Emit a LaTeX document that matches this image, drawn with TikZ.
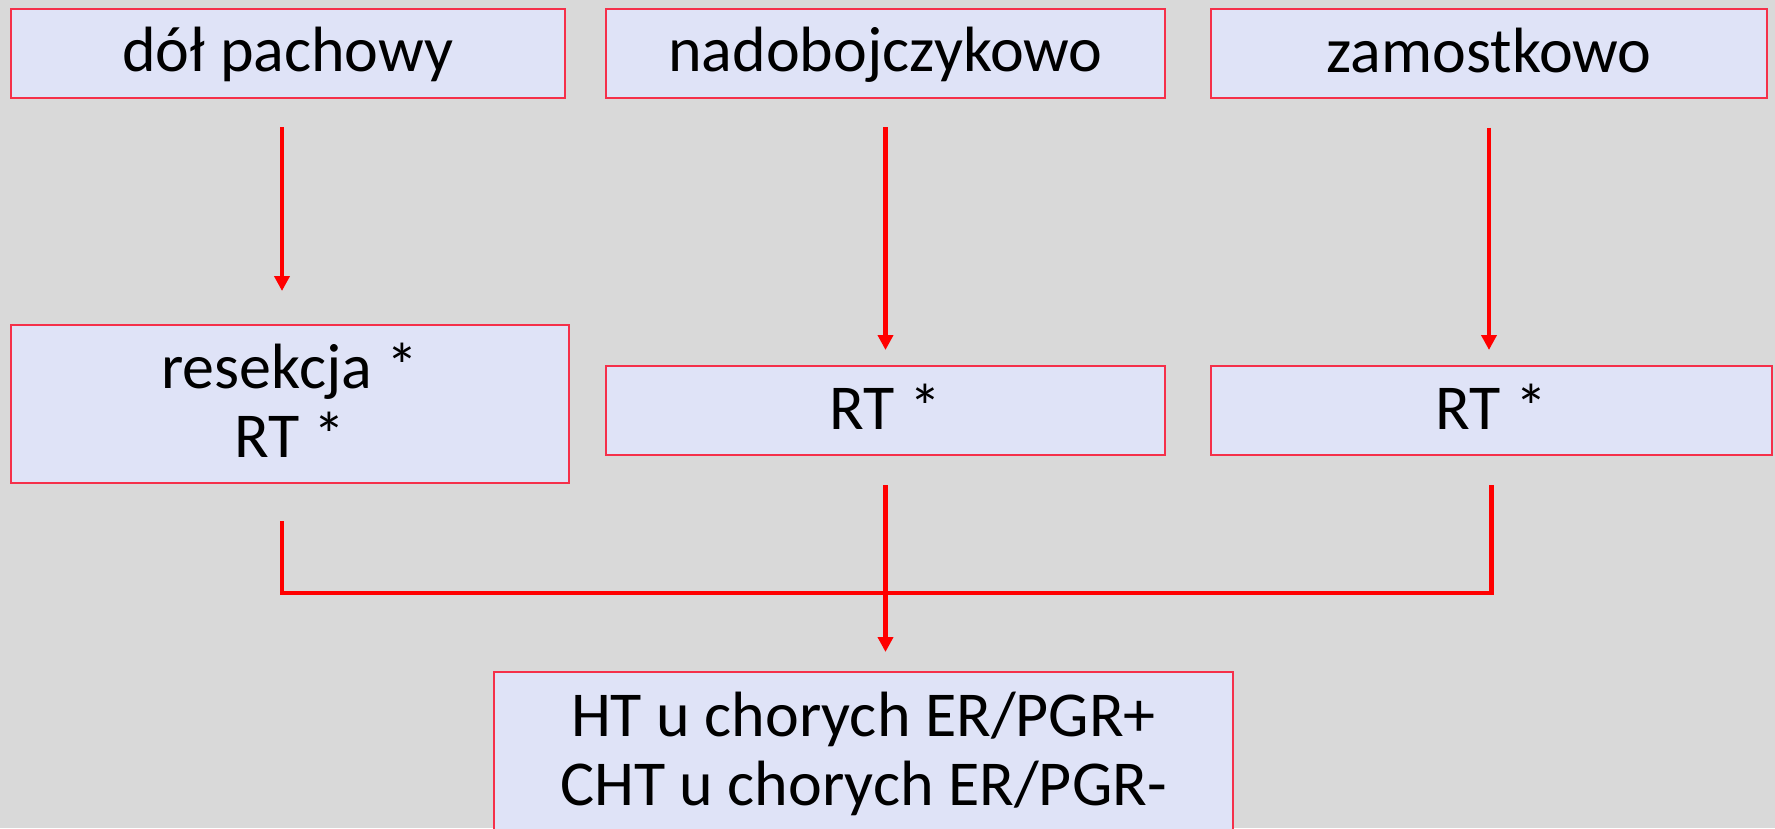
\documentclass[tikz,border=0pt]{standalone}
\usepackage{fontspec}
\setmainfont{Carlito}
\usepackage{tikz}
\usetikzlibrary{arrows.meta,calc}
\definecolor{bggray}{HTML}{D9D9D9}
\definecolor{boxfill}{HTML}{DFE3F7}
\definecolor{boxedge}{HTML}{F5304A}
\definecolor{linkred}{HTML}{FF0000}
\newcommand{\lnstrut}{\rule[-15pt]{0pt}{67pt}}

\begin{document}
\begin{tikzpicture}[x=1pt,y=-1pt,
    box/.style={draw=boxedge,fill=boxfill,line width=2pt,inner sep=0pt,
      align=center,font=\fontsize{64pt}{69pt}\selectfont},
    link/.style={linkred,line width=4.5pt},
    arr/.style={link,-{Triangle[length=15pt,width=15pt]}}]
  \fill[bggray] (0,0) rectangle (1775,828);
  \useasboundingbox (0,0) rectangle (1775,828);
  % first row
  \node[box,minimum width=554pt,minimum height=89pt] (dol) at (288,53) {\lnstrut d\'o\l{} pachowy};
  \node[box,minimum width=559pt,minimum height=89pt] (nadob) at (885.5,53) {\lnstrut nadobojczykowo};
  \node[box,minimum width=556pt,minimum height=89pt] (zamost) at (1489,53.5) {\lnstrut zamostkowo};
  % second row
  \node[box,minimum width=558pt,minimum height=158pt] (resek) at (290,404) {\lnstrut resekcja *\\\lnstrut RT *};
  \node[box,minimum width=559pt,minimum height=89pt] (rt2) at (885.5,410.5) {\lnstrut RT *};
  \node[box,minimum width=561pt,minimum height=89pt] (rt3) at (1491.5,410.5) {\lnstrut RT *};
  % result
  \node[box,minimum width=739pt,minimum height=160pt] (ht) at (863.5,752) {\lnstrut HT u chorych ER/PGR+\\\lnstrut CHT u chorych ER/PGR-};
  \draw[arr,shorten <=28.5pt,shorten >=33pt] ([xshift=-6pt]dol.south) -- ([xshift=-6pt]dol.south |- resek.north);
  \draw[arr,shorten <=28.5pt,shorten >=15pt] (nadob.south) -- (rt2.north);
  \draw[arr,shorten <=28.5pt,shorten >=15pt] (zamost.south) -- (zamost.south |- rt3.north);
  \coordinate (join) at (0,593);
  \draw[link] ([xshift=-8pt,yshift=-37pt]resek.south) -- ([xshift=-8pt]resek.south |- join)
    -- (rt3.south |- join) -- ([yshift=-29pt]rt3.south);
  \draw[arr,shorten <=29pt,shorten >=19pt] (rt2.south) -- (rt2.south |- ht.north);
\end{tikzpicture}
\end{document}
